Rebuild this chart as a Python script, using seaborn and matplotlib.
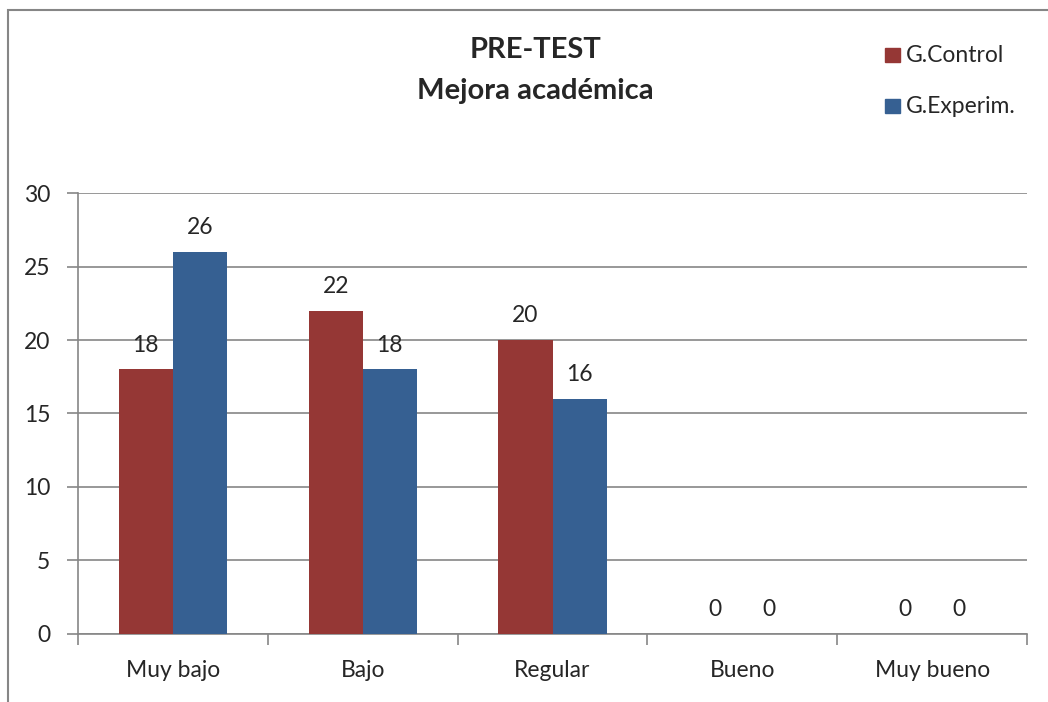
import pandas as pd
import numpy as np
from matplotlib import pyplot as plt
from matplotlib.patches import Rectangle
import seaborn as sns

# data
categorias = ["Muy bajo", "Bajo", "Regular", "Bueno", "Muy bueno"]
control = [18, 22, 20, 0, 0]
experim = [26, 18, 16, 0, 0]
grupos = ["G.Control", "G.Experim."]
colores = ["#953735", "#366092"]

df = pd.DataFrame({"Nivel": categorias * 2,
                   "Valor": control + experim,
                   "Grupo": [grupos[0]] * 5 + [grupos[1]] * 5})

sns.set_style("white")
plt.rcParams['font.family'] = ['Lato', 'DejaVu Sans']

fig = plt.figure(figsize=(10.48, 7.02), dpi=100)
ax = fig.add_axes([0.0744, 0.097, 0.9056, 0.628])

sns.barplot(x="Nivel", y="Valor", hue="Grupo", data=df, palette=colores,
            width=0.57, saturation=1, ax=ax, legend=False, zorder=3, linewidth=0)

ax.set_ylim(0, 30)
ax.set_xlim(-0.5, 4.5)
ax.set_yticks(range(0, 31, 5))
ax.yaxis.grid(True, color="#868686", linewidth=1.2, zorder=0)
ax.set_axisbelow(True)
for s in ["top", "right"]:
    ax.spines[s].set_visible(False)
for s in ["left", "bottom"]:
    ax.spines[s].set_color("#868686")
    ax.spines[s].set_linewidth(1.2)

ax.set_xticks(np.arange(-0.5, 5, 1), minor=False)
ax.set_xticklabels([])
ax.set_xticks(range(5), minor=True)
ax.set_xticklabels(categorias, minor=True, fontsize=16.5)
ax.tick_params(axis="x", which="major", length=8, width=1.2, color="#868686", direction="out")
ax.tick_params(axis="x", which="minor", length=0, pad=19)
ax.tick_params(axis="y", length=8, width=1.2, color="#868686", labelsize=16.5, pad=12, direction="out")
ax.tick_params(axis="both", bottom=True, left=True)
ax.set_xlabel("")
ax.set_ylabel("")

# etiquetas de datos
for cont in ax.containers:
    ax.bar_label(cont, fontsize=16.5, padding=10)

# título
fig.text(0.511, 0.929, "PRE-TEST", ha="center", va="center", fontsize=21, fontweight="bold")
fig.text(0.511, 0.870, "Mejora académica", ha="center", va="center", fontsize=21, fontweight="bold")

# leyenda
for i, (g, c) in enumerate(zip(grupos, colores)):
    yb = 0.9117 - i * 0.0727
    fig.patches.append(Rectangle((0.8445, yb), 0.0143, 0.02, color=c,
                                 transform=fig.transFigure, figure=fig))
    fig.text(0.8645, yb + 0.0095, g, ha="left", va="center", fontsize=16.5)

# borde del gráfico
fig.patches.append(Rectangle((0.0076, -0.1), 1.2, 1.086, fill=False, edgecolor="#868686",
                             linewidth=1.5, transform=fig.transFigure, figure=fig))

plt.savefig("out.png", dpi=100)
